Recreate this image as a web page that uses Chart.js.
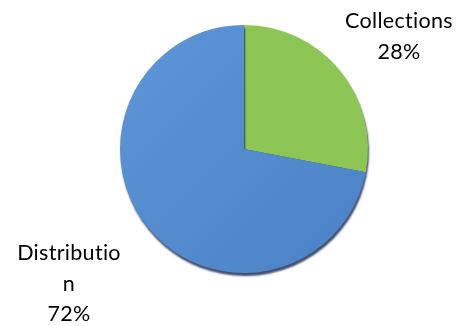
<!DOCTYPE html>
<html><head><meta charset="utf-8">
<script src="https://cdn.jsdelivr.net/npm/chart.js@4/dist/chart.umd.min.js"></script>
<style>html,body{margin:0;padding:0;background:#fff}#wrap{width:463px;height:326px}</style>
</head><body><div id="wrap"><canvas id="c" width="463" height="326"></canvas></div>
<script>
const categories = ["Collections", "Distribution"];
const values = [28, 72];
const labelLines = [["Collections", "28%"], ["Distributio", "n", "72%"]];
const colors = ["#8DC654", "#5A8FD4"];

const canvas = document.getElementById('c');

const shadowPlugin = {
  id: 'shadow',
  beforeDatasetsDraw(chart) {
    const c = chart.ctx; c.save();
    c.shadowColor = 'rgba(15,35,75,0.8)';
    c.shadowOffsetY = 3; c.shadowOffsetX = 1; c.shadowBlur = 2;
  },
  afterDatasetsDraw(chart) { chart.ctx.restore(); }
};

// label anchors: [center x, baseline y of first line]
const labelPos = [[399, 28], [69, 260]];
const labelPlugin = {
  id: 'labels',
  afterDraw(chart) {
    const c = chart.ctx; c.save();
    c.font = '21.5px Lato, "Open Sans", sans-serif';
    if ('letterSpacing' in c) c.letterSpacing = '0.3px';
    c.fillStyle = '#000'; c.textAlign = 'center'; c.textBaseline = 'alphabetic';
    labelLines.forEach((lines, i) => {
      lines.forEach((t, j) => c.fillText(t, labelPos[i][0], labelPos[i][1] + j * 30.5));
    });
    c.restore();
  }
};

function blueGrad(chart) {
  const a = chart.chartArea;
  if (!a) return colors[1];
  const g = chart.ctx.createLinearGradient(a.left, a.top, a.right, a.bottom);
  g.addColorStop(0, '#5E96DA');
  g.addColorStop(1, '#4B80C4');
  return g;
}

new Chart(canvas, {
  type: 'pie',
  data: {
    labels: categories,
    datasets: [{
      data: values,
      backgroundColor: (ctx) => ctx.dataIndex === 1 ? blueGrad(ctx.chart) : colors[0],
      borderWidth: 0,
    }]
  },
  options: {
    responsive: false,
    animation: false,
    layout: { padding: { left: 120, right: 95, top: 25, bottom: 53 } },
    plugins: { legend: { display: false }, tooltip: { enabled: false } }
  },
  plugins: [shadowPlugin, labelPlugin]
});
</script></body></html>
